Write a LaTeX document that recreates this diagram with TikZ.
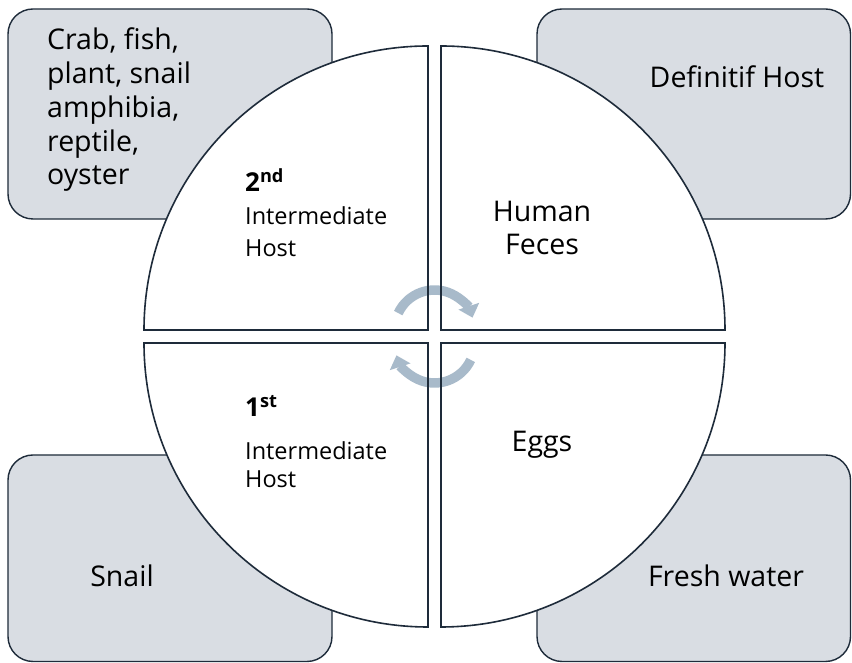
\documentclass[tikz,border=0pt]{standalone}
\usepackage{fontspec}
\setmainfont{Open Sans}
\usetikzlibrary{arrows.meta}
\definecolor{edge}{HTML}{1E2B3A}
\definecolor{boxfill}{HTML}{D9DDE3}
\definecolor{cyc}{HTML}{A8BACA}
\begin{document}
\begin{tikzpicture}[x=1pt,y=1pt,
  hostbox/.style={draw=edge,fill=boxfill,line width=1.4pt,rounded corners=25pt},
  quadfill/.style={fill=white},
  quadline/.style={draw=edge,line width=1.6pt,line join=miter},
  big/.style={font=\fontsize{28.5}{34}\selectfont,text=black,inner sep=0pt},
  small/.style={font=\fontsize{23.5}{28}\selectfont,text=black,inner sep=0pt},
  ord/.style={font=\fontsize{26}{30}\selectfont\bfseries,text=black,inner sep=0pt},
  cycarrow/.style={draw=cyc,line width=9.5pt,-{Triangle[width=21pt,length=12pt]}}]
\useasboundingbox (0,0) rectangle (852,663);
\fill[white] (0,0) rectangle (852,663);
% host boxes
\draw[hostbox] (8,444) rectangle (332,654);
\draw[hostbox] (537,444) rectangle (850.5,654);
\draw[hostbox] (8,1.5) rectangle (332,208);
\draw[hostbox] (537,1.5) rectangle (850.5,208);
% quadrant shapes
\def\qA{(428,333) -- (144,333) arc[start angle=180,end angle=90,radius=284] -- cycle}
\def\qB{(441,333) -- (441,617) arc[start angle=90,end angle=0,radius=284] -- cycle}
\def\qC{(428,320) -- (144,320) arc[start angle=180,end angle=270,radius=284] -- cycle}
\def\qD{(441,320) -- (725,320) arc[start angle=0,end angle=-90,radius=284] -- cycle}
\path[quadfill] \qA; \path[quadfill] \qB; \path[quadfill] \qC; \path[quadfill] \qD;
% cycle arrows
\coordinate (ct) at (434.5,333);
\coordinate (cb) at (434.5,320);
\draw[cycarrow] ([shift={(155:40)}]ct) arc[start angle=155,end angle=18,radius=40];
\draw[cycarrow] ([shift={(-25:40)}]cb) arc[start angle=-25,end angle=-162,radius=40];
% quadrant outlines over the arrows
\path[quadline] \qA; \path[quadline] \qB; \path[quadline] \qC; \path[quadline] \qD;
% box texts
\node[big,anchor=base west] (c1) at (47,613) {Crab, fish,};
\node[big,anchor=base west] (c2) at (47,579) {plant, snail};
\node[big,anchor=base west] (c3) at (47,545) {amphibia,};
\node[big,anchor=base west] (c4) at (47,511) {reptile,};
\node[big,anchor=base west] (c5) at (47,478) {oyster};
\node[big,anchor=base] (def) at (737,575) {Definitif Host};
\node[big,anchor=base] (snail) at (122,76) {Snail};
\node[big,anchor=base] (water) at (726,76) {Fresh water};
% quadrant texts
\node[ord,anchor=base west] (o2) at (245,471) {2\textsuperscript{nd}};
\node[small,anchor=base west] (i2) at (245,438) {Intermediate};
\node[small,anchor=base west] (h2) at (245,406) {Host};
\node[ord,anchor=base west] (o1) at (245,246) {1\textsuperscript{st}};
\node[small,anchor=base west] (i1) at (245,203) {Intermediate};
\node[small,anchor=base west] (h1) at (245,175) {Host};
\node[big,anchor=base] (hum) at (542,441) {Human};
\node[big,anchor=base] (fec) at (542,408) {Feces};
\node[big,anchor=base] (egg) at (542,211) {Eggs};
\end{tikzpicture}
\end{document}
